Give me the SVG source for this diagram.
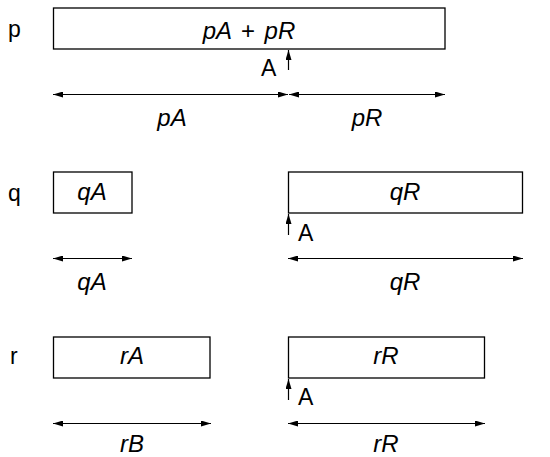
<svg xmlns="http://www.w3.org/2000/svg" width="550" height="457" viewBox="0 0 550 457">
<style>
.box{fill:#fff;stroke:#000;stroke-width:1.3}
.ln{stroke:#000;stroke-width:1.2;fill:none}
.m{font-family:"Liberation Sans",Arial,sans-serif;font-style:italic;font-size:24px;text-anchor:middle}
.t{font-family:"Liberation Sans",Arial,sans-serif;font-size:23px}
.up{font-style:normal}
</style>
<defs>
<marker id="ah" viewBox="0 0 10 6" refX="10" refY="3" markerWidth="10" markerHeight="6" markerUnits="userSpaceOnUse" orient="auto-start-reverse">
<path d="M0,0 L10,3 L0,6 z" fill="#000"/>
</marker>
</defs>
<rect width="550" height="457" fill="#fff"/>
<g id="row-labels">
<text class="t" x="8" y="37">p</text>
<text class="t" x="8" y="201">q</text>
<text class="t" x="10" y="364">r</text>
</g>
<g id="node-p">
<rect class="box" x="53.5" y="8" width="391.5" height="41"/>
<text class="m" x="249" y="39" word-spacing="3">pA <tspan class="up">+</tspan> pR</text>
</g>
<g id="node-qA">
<rect class="box" x="53.5" y="172" width="78.5" height="41"/>
<text class="m" x="92" y="200">qA</text>
</g>
<g id="node-qR">
<rect class="box" x="288.5" y="172" width="234" height="41"/>
<text class="m" x="405" y="200">qR</text>
</g>
<g id="node-rA">
<rect class="box" x="53.5" y="337" width="156.5" height="41"/>
<text class="m" x="132" y="364">rA</text>
</g>
<g id="node-rR">
<rect class="box" x="288.5" y="337" width="196" height="41"/>
<text class="m" x="386" y="364">rR</text>
</g>
<g id="connectors">
<line class="ln" x1="288.5" y1="70" x2="288.5" y2="50" marker-end="url(#ah)"/>
<line class="ln" x1="288.5" y1="235" x2="288.5" y2="214" marker-end="url(#ah)"/>
<line class="ln" x1="288.5" y1="400" x2="288.5" y2="379" marker-end="url(#ah)"/>
<line class="ln" x1="53" y1="94.5" x2="288" y2="94.5" marker-start="url(#ah)" marker-end="url(#ah)"/>
<line class="ln" x1="289" y1="94.5" x2="445" y2="94.5" marker-start="url(#ah)" marker-end="url(#ah)"/>
<line class="ln" x1="53" y1="258.5" x2="132" y2="258.5" marker-start="url(#ah)" marker-end="url(#ah)"/>
<line class="ln" x1="288" y1="258.5" x2="523" y2="258.5" marker-start="url(#ah)" marker-end="url(#ah)"/>
<line class="ln" x1="53" y1="423.5" x2="211" y2="423.5" marker-start="url(#ah)" marker-end="url(#ah)"/>
<line class="ln" x1="288" y1="423.5" x2="485" y2="423.5" marker-start="url(#ah)" marker-end="url(#ah)"/>
</g>
<g id="labels">
<text class="t" x="261" y="76">A</text>
<text class="t" x="298" y="241">A</text>
<text class="t" x="298" y="405">A</text>
<text class="m" x="172" y="126">pA</text>
<text class="m" x="367" y="126">pR</text>
<text class="m" x="92" y="290">qA</text>
<text class="m" x="405" y="290">qR</text>
<text class="m" x="132" y="452">rB</text>
<text class="m" x="386" y="452">rR</text>
</g>
</svg>
